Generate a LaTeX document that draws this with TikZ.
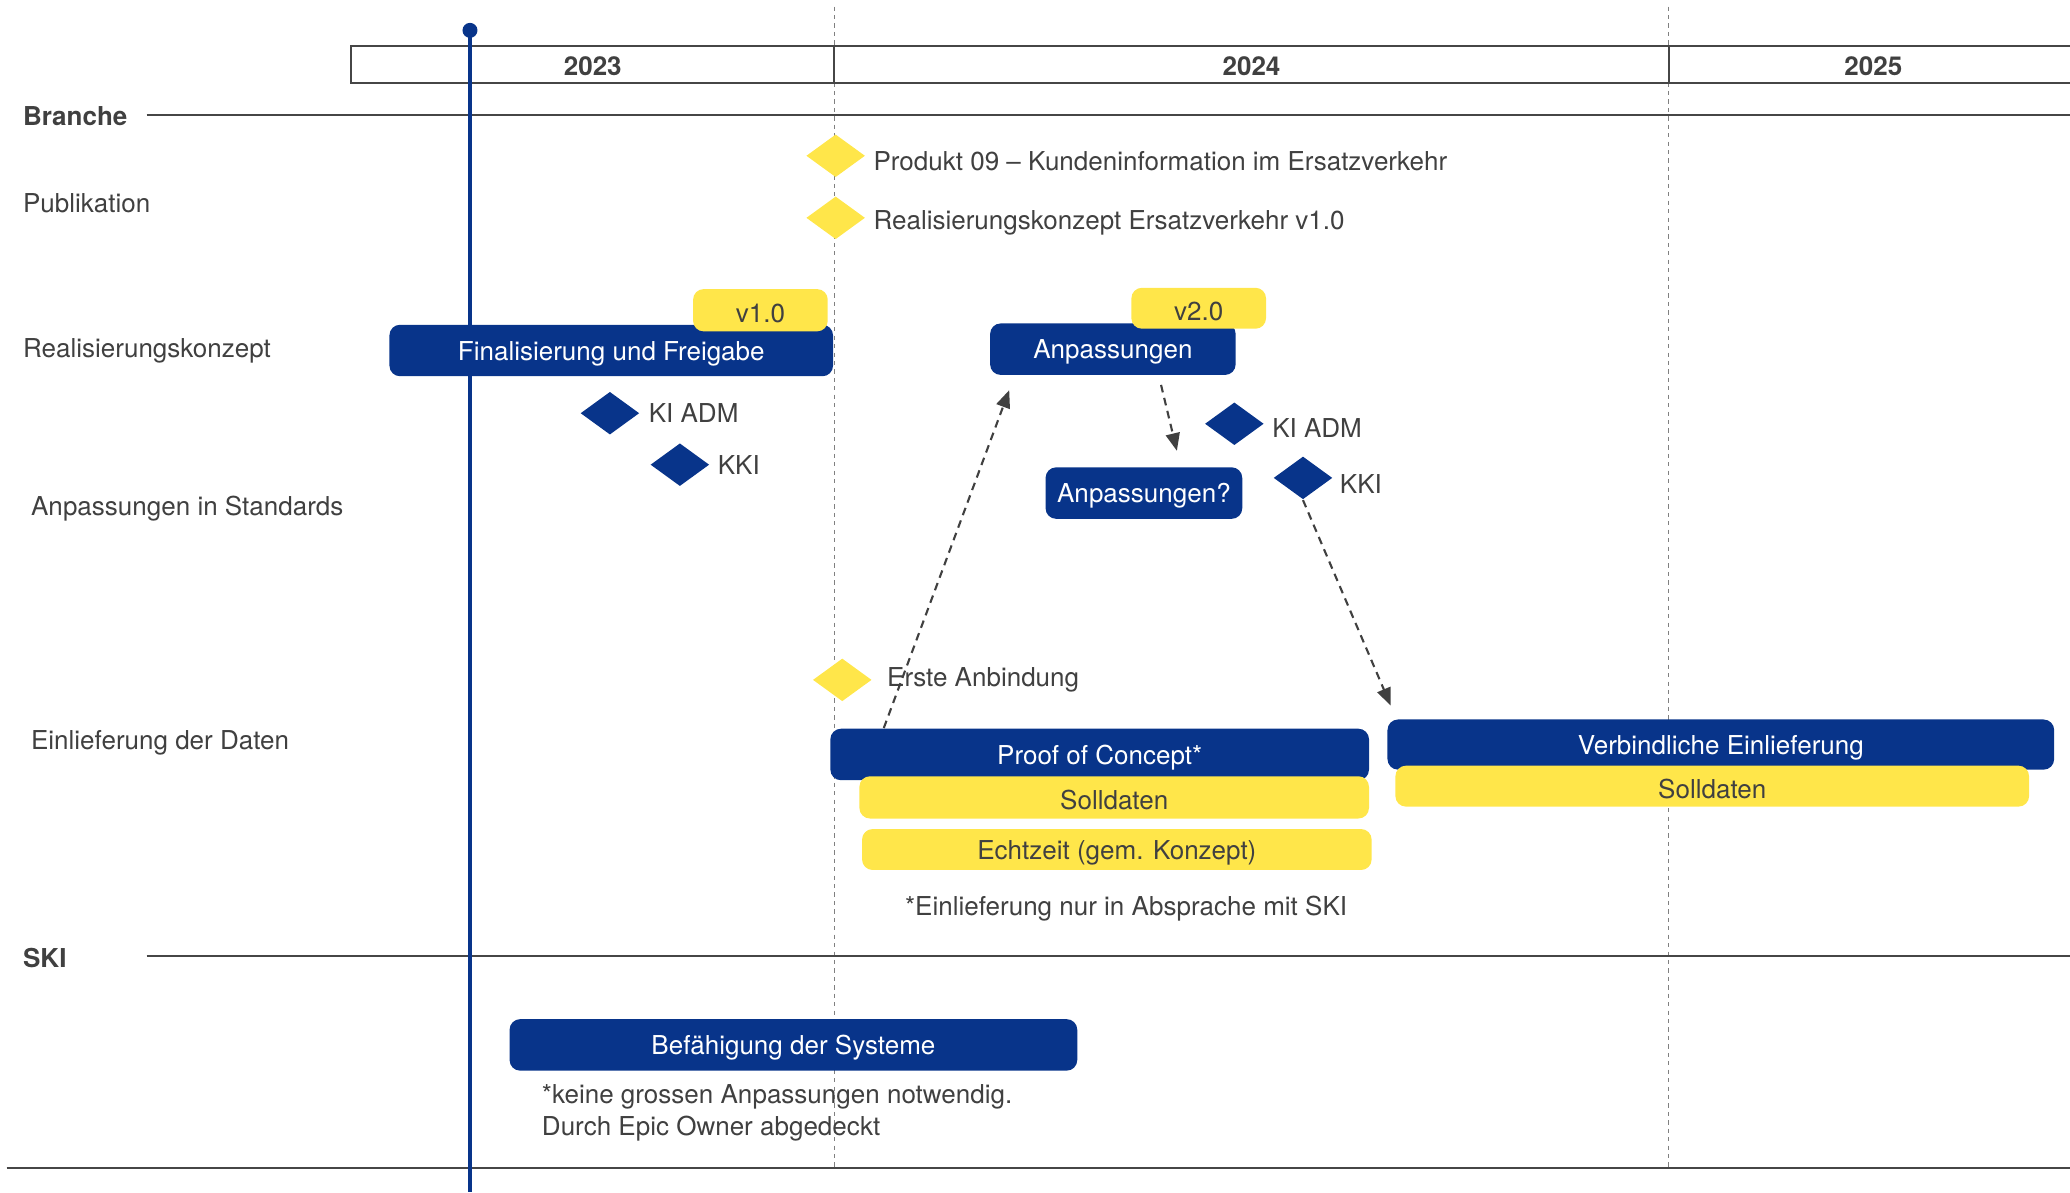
\documentclass[tikz,border=0pt]{standalone}
\usepackage{fontspec}
\setmainfont{TeX Gyre Heros}
\usepackage{tikz}
\usetikzlibrary{positioning,arrows.meta,shapes.geometric,fit,calc}

\definecolor{sbbblue}{RGB}{8,52,138}
\definecolor{sbbyellow}{RGB}{255,230,74}
\definecolor{txtgray}{RGB}{64,64,64}
\definecolor{linegray}{RGB}{70,70,70}
\newcommand{\chartfont}{\fontsize{7.4}{9}\selectfont}

\begin{document}
\begin{tikzpicture}[x=0.013202cm, y=-0.013202cm,
        every node/.style={text=txtgray, font=\chartfont},
        bluebox/.style={fill=sbbblue, rounded corners=3pt, inner sep=0pt},
        yellowbox/.style={fill=sbbyellow, rounded corners=3pt, inner sep=0pt},
        bluetext/.style={label={[text=white, yshift=-0.03cm]center:#1}},
        yellowtext/.style={label={[yshift=-0.03cm]center:#1}},
        bluedia/.style={diamond, fill=sbbblue, minimum width=0.59cm, minimum height=0.43cm, inner sep=0pt},
        yellowdia/.style={diamond, fill=sbbyellow, minimum width=0.59cm, minimum height=0.43cm, inner sep=0pt},
        rowlabel/.style={anchor=west, inner sep=0pt},
        headlabel/.style={anchor=west, inner sep=0pt, font=\chartfont\bfseries},
        milestone/.style={inner sep=0pt},
        yearlabel/.style={font=\chartfont\bfseries},
        sepline/.style={draw=linegray, line width=0.6pt},
        gridline/.style={draw=gray, line width=0.3pt, dash pattern=on 1.2pt off 1.2pt},
        flow/.style={draw=txtgray, line width=0.6pt, dash pattern=on 2.2pt off 1.6pt, -{Triangle[length=5pt,width=4pt]}}]
    \useasboundingbox (0,0) rectangle (1568,903);

    \draw[gridline] (632,5) -- (632,885);
    \draw[gridline] (1264,5) -- (1264,885);

    \draw[sepline] (1568,35) -- (266,35) -- (266,63) -- (1568,63);
    \draw[sepline] (632,35) -- (632,63) (1264,35) -- (1264,63);
    \node[yearlabel] (y2023) at (449,50) {2023};
    \node[yearlabel] (y2024) at (948,50) {2024};
    \node[yearlabel] (y2025) at (1419,50) {2025};

    \draw[sepline] (111,87) -- (1568,87);
    \draw[sepline] (111,724) -- (1568,724);
    \draw[sepline] (5,885) -- (1568,885);
    \node[headlabel] (branche) at (17,88) {Branche};
    \node[headlabel] (ski) at (17,726) {SKI};

    \node[rowlabel] (publikation) at (17,154) {Publikation};
    \node[rowlabel] (realisierung) at (17,266) {Realisierungskonzept};
    \node[rowlabel] (standards) at (23,385) {Anpassungen in Standards};
    \node[rowlabel] (einlieferung) at (23,563) {Einlieferung der Daten};

    \draw[sbbblue, line width=1.1pt] (356,23) -- (356,903);
    \fill[sbbblue] (356,23) circle (0.075cm);

    \node[yellowdia] (pub1) at (633,118) {};
    \node[milestone, right=0.07cm of pub1, yshift=-0.05cm] (pub1txt) {Produkt 09 – Kundeninformation im Ersatzverkehr};
    \node[yellowdia] (pub2) at (633,165) {};
    \node[milestone, right=0.07cm of pub2, yshift=-0.05cm] (pub2txt) {Realisierungskonzept Ersatzverkehr v1.0};
    \node[yellowdia] (erste) at (638,515) {};
    \node[milestone, right=0.14cm of erste] (erstetxt) {Erste Anbindung};

    \node[bluedia] (kiadm1) at (462,313) {};
    \node[milestone, right=0.08cm of kiadm1] (kiadm1txt) {KI ADM};
    \node[bluedia] (kki1) at (515,352) {};
    \node[milestone, right=0.07cm of kki1] (kki1txt) {KKI};
    \node[bluedia] (kiadm2) at (935,321) {};
    \node[milestone, right=0.07cm of kiadm2, yshift=-0.04cm] (kiadm2txt) {KI ADM};
    \node[bluedia] (kki2) at (987,362) {};
    \node[milestone, right=0.06cm of kki2, yshift=-0.065cm] (kki2txt) {KKI};

    \node[bluebox, fit={(295,246) (631,285)}, bluetext={Finalisierung und Freigabe}] (final) {};
    \node[yellowbox, fit={(525,219) (627,251)}, yellowtext={v1.0}] (v1) {};
    \node[bluebox, fit={(750,245) (936,284)}, bluetext={Anpassungen}] (anp) {};
    \node[yellowbox, fit={(857,218) (959,249)}, yellowtext={v2.0}] (v2) {};
    \node[bluebox, fit={(792,354) (941,393)}, bluetext={Anpassungen?}] (anpq) {};

    \node[bluebox, fit={(629,552) (1037,591)}, bluetext={Proof of Concept*}] (poc) {};
    \node[yellowbox, fit={(651,588) (1037,620)}, yellowtext={Solldaten}] (soll1) {};
    \node[yellowbox, fit={(653,628) (1039,659)}, yellowtext={Echtzeit (gem. Konzept)}] (echtzeit) {};
    \node[bluebox, fit={(1051,545) (1556,583)}, bluetext={Verbindliche Einlieferung}] (verbindlich) {};
    \node[yellowbox, fit={(1057,580) (1537,611)}, yellowtext={Solldaten}] (soll2) {};
    \node (pocnote) at (853,688) {*Einlieferung nur in Absprache mit SKI};

    \node[bluebox, fit={(386,772) (816,811)}, bluetext={Befähigung der Systeme}] (befaehigung) {};
    \node[anchor=west, align=left, inner sep=0pt] (skinote) at (410,843)
        {*keine grossen Anpassungen notwendig.\\Durch Epic Owner abgedeckt};

    \draw[flow] ($(poc.north west)+(41,0)$) -- ($(anp.south west)+(15,11)$);
    \draw[flow] ($(anp.south west)+(130,7)$) -- ($(anpq.north west)+(100,-12)$);
    \draw[flow] (kki2.south) -- ($(verbindlich.north west)+(3,-10)$);
\end{tikzpicture}
\end{document}
